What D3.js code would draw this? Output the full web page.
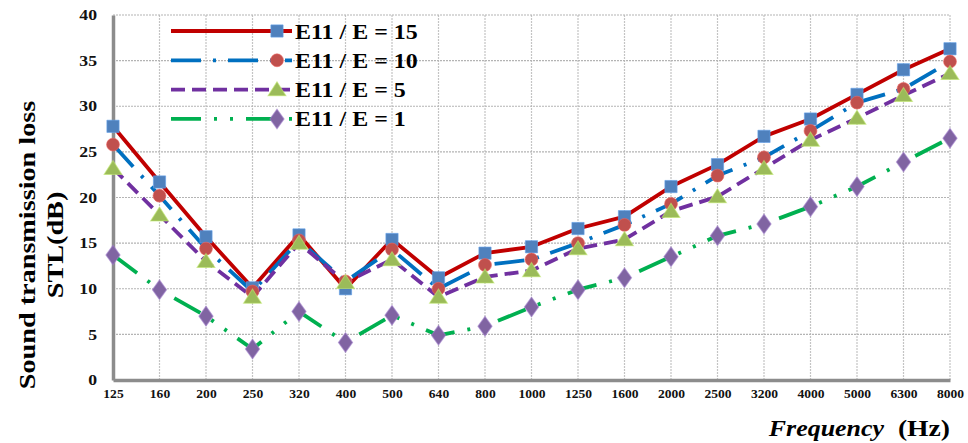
<!DOCTYPE html>
<html>
<head>
<meta charset="utf-8">
<script src="https://cdn.jsdelivr.net/npm/d3@7"></script>
<style>
  html, body { margin: 0; padding: 0; background: #fff; }
  svg { display: block; }
  text { font-family: "Liberation Serif", "Times New Roman", serif; font-weight: bold; }
</style>
</head>
<body>
<svg id="chart" width="968" height="443"></svg>
<script>
// Frequency bands (Hz)
const frequencies = ["125","160","200","250","320","400","500","640","800","1000","1250","1600","2000","2500","3200","4000","5000","6300","8000"];

// STL (dB) for each modulus ratio
const stl15 = [27.8, 21.7, 15.7, 10.1, 15.9, 10.0, 15.4, 11.2, 13.9, 14.6, 16.6, 17.9, 21.2, 23.6, 26.7, 28.6, 31.3, 34.0, 36.3];
const stl10 = [25.8, 20.2, 14.4, 9.7, 15.3, 10.8, 14.3, 10.0, 12.6, 13.2, 15.0, 17.0, 19.3, 22.4, 24.4, 27.3, 30.4, 31.9, 34.9];
const stl5  = [23.2, 18.1, 13.0, 9.1, 15.0, 10.7, 13.2, 9.1, 11.3, 12.0, 14.4, 15.4, 18.5, 20.1, 23.2, 26.3, 28.7, 31.2, 33.6];
const stl1  = [13.7, 9.9, 7.0, 3.4, 7.5, 4.1, 7.1, 4.9, 5.9, 8.0, 9.9, 11.2, 13.5, 15.8, 17.1, 19.0, 21.2, 23.9, 26.5];

const seriesNames = ["E11 / E = 15", "E11 / E = 10", "E11 / E = 5", "E11 / E = 1"];
const yTicks = [0, 5, 10, 15, 20, 25, 30, 35, 40];

const series = [
  { name: seriesNames[0], values: stl15, line: "#C00000", dash: null,                  marker: "square",   fill: "#4F81BD" },
  { name: seriesNames[1], values: stl10, line: "#0070C0", dash: "30,12,3,12",          marker: "circle",   fill: "#C0504D" },
  { name: seriesNames[2], values: stl5,  line: "#7030A0", dash: "14,7",                marker: "triangle", fill: "#9BBB59" },
  { name: seriesNames[3], values: stl1,  line: "#00B050", dash: "30,13,3,13,3,13",     marker: "diamond",  fill: "#8064A2" }
];

const svg = d3.select("#chart");
const plotLeft = 113, plotRight = 950, plotTop = 15, plotBottom = 380;

const x = d3.scalePoint().domain(frequencies).range([plotLeft, plotRight]);
const y = d3.scaleLinear().domain([0, 40]).range([plotBottom, plotTop]);

// Stretch text horizontally (wide serif look) while keeping its anchor
function widen(sel, k) {
  sel.each(function () {
    const len = this.getComputedTextLength();
    d3.select(this).attr("textLength", len * k).attr("lengthAdjust", "spacingAndGlyphs");
  });
}

// Gridlines
const grid = svg.append("g");
grid.selectAll("line.v").data(frequencies.slice(1)).join("line")
  .attr("x1", d => x(d)).attr("x2", d => x(d))
  .attr("y1", plotTop).attr("y2", plotBottom)
  .attr("stroke", "#c4c4c4").attr("stroke-width", 1.2).attr("stroke-dasharray", "2,1");
grid.selectAll("line.h").data(yTicks.slice(1)).join("line")
  .attr("x1", plotLeft).attr("x2", plotRight)
  .attr("y1", d => y(d)).attr("y2", d => y(d))
  .attr("stroke", "#b4b4b4").attr("stroke-width", 1.2).attr("stroke-dasharray", "2,1");

// Axes
const yAxis = svg.append("g").attr("transform", `translate(${plotLeft},0)`)
  .call(d3.axisLeft(y).tickValues(yTicks).tickSize(0).tickPadding(16));
yAxis.select(".domain").attr("stroke", "#8c8c8c").attr("stroke-width", 3.5);
yAxis.selectAll("text").attr("font-size", 14.5).attr("fill", "#111")
  .attr("font-family", "Liberation Serif").attr("font-weight", "bold")
  .call(widen, 1.22);

const xAxis = svg.append("g").attr("transform", `translate(0,${plotBottom})`)
  .call(d3.axisBottom(x).tickSize(0).tickPadding(10));
xAxis.select(".domain").attr("stroke", "#8c8c8c").attr("stroke-width", 3.5);
xAxis.selectAll("text").attr("font-size", 11.5).attr("fill", "#111")
  .attr("font-family", "Liberation Serif").attr("font-weight", "bold")
  .call(widen, 1.18);

// Series lines
const lineGen = d3.line().x((d, i) => x(frequencies[i])).y(d => y(d));
const lines = svg.append("g");
series.forEach(s => {
  lines.append("path")
    .attr("d", lineGen(s.values))
    .attr("fill", "none")
    .attr("stroke", s.line)
    .attr("stroke-width", 3.8)
    .attr("stroke-linejoin", "round")
    .attr("stroke-dasharray", s.dash);
});

// Markers
const symbolTypes = { square: d3.symbolSquare, circle: d3.symbolCircle, triangle: d3.symbolTriangle, diamond: d3.symbolDiamond };
const symbolSizes = { square: 150, circle: 130, triangle: 115, diamond: 110 };
function marker(g, s, cx, cy) {
  const sym = d3.symbol().type(symbolTypes[s.marker]).size(symbolSizes[s.marker]);
  const p = g.append("path").attr("d", sym())
    .attr("fill", s.fill)
    .attr("stroke", d3.color(s.fill).brighter(0.6))
    .attr("stroke-width", 1)
    .attr("stroke-opacity", 0.6);
  if (s.marker === "diamond") p.attr("transform", `translate(${cx},${cy}) scale(1.25,1)`);
  else if (s.marker === "triangle") p.attr("transform", `translate(${cx},${cy + 1.5}) scale(1.1,1)`);
  else p.attr("transform", `translate(${cx},${cy})`);
}
const marks = svg.append("g");
series.forEach(s => {
  s.values.forEach((v, i) => marker(marks, s, x(frequencies[i]), y(v)));
});

// Legend
const legend = svg.append("g");
series.forEach((s, i) => {
  const ly = 31 + i * 29.3;
  legend.append("line")
    .attr("x1", 171).attr("x2", 292).attr("y1", ly).attr("y2", ly)
    .attr("stroke", s.line).attr("stroke-width", 3.8)
    .attr("stroke-dasharray", s.dash);
  marker(legend, s, 277, ly);
  legend.append("text")
    .attr("x", 295).attr("y", ly + 7.5)
    .attr("font-size", 21).attr("fill", "#000")
    .text(s.name)
    .call(widen, 1.14);
});

// Axis titles
svg.append("text")
  .attr("transform", "translate(35,245) rotate(-90)")
  .attr("text-anchor", "middle").attr("font-size", 23.5)
  .text("Sound transmission loss")
  .call(widen, 1.2);
svg.append("text")
  .attr("transform", "translate(63,245) rotate(-90)")
  .attr("text-anchor", "middle").attr("font-size", 23.5)
  .text("STL(dB)")
  .call(widen, 1.2);

svg.append("text").attr("x", 884).attr("y", 436)
  .attr("text-anchor", "end").attr("font-size", 24).attr("font-style", "italic")
  .text("Frequency")
  .call(widen, 1.08);
svg.append("text").attr("x", 950).attr("y", 436)
  .attr("text-anchor", "end").attr("font-size", 24)
  .text("(Hz)")
  .call(widen, 1.15);
</script>
</body>
</html>
